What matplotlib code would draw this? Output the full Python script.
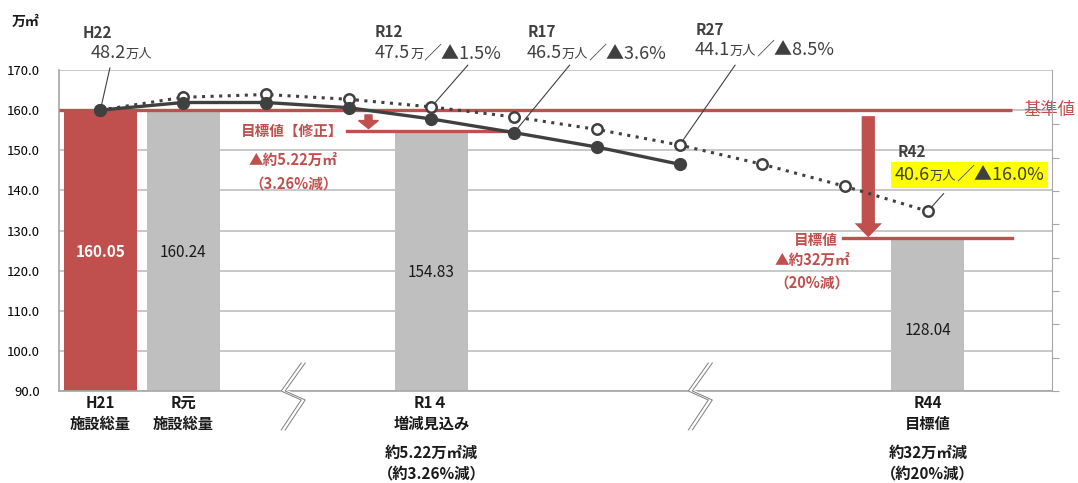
import matplotlib
matplotlib.use("Agg")
import matplotlib.pyplot as plt
import matplotlib.transforms as mtransforms
from matplotlib.patches import FancyArrow
from matplotlib.offsetbox import TextArea, HPacker, AnnotationBbox

plt.rcParams['font.family'] = ['Noto Sans CJK JP', 'DejaVu Sans']

# ---- data ----
bar_pos = [0, 1, 4, 10]
bar_vals = [160.05, 160.24, 154.83, 128.04]
bar_text = ["160.05", "160.24", "154.83", "128.04"]
bar_text_y = [124.6, 124.6, 119.6, 105.1]
bar_names = ["H21\n施設総量", "R元\n施設総量", "R1４\n増減見込み", "R44\n目標値"]
bar_notes = ["", "", "約5.22万㎡減\n（約3.26%減）", "約32万㎡減\n（約20%減）"]

# solid line (filled markers) and dotted line (open markers), one point per slot
area_trend = [160.0, 161.9, 161.9, 160.6, 157.8, 154.4, 150.8, 146.5]
pop_trend = [160.0, 163.2, 163.9, 162.7, 160.8, 158.3, 155.2, 151.3, 146.5, 141.0, 134.8]

base_value = 160.0
revised_target = 154.83
final_target = 128.04

yticks = [90, 100, 110, 120, 130, 140, 150, 160, 170]

RED = "#C0504D"
GRAY = "#BFBFBF"
DARK = "#404040"

fig = plt.figure(figsize=(10.78, 4.83), dpi=100)
ax = fig.add_axes([59 / 1078, (483 - 391) / 483, (1052 - 59) / 1078, (391 - 70) / 483])
ax.set_xlim(-0.5, 11.5)
ax.set_ylim(90, 170)

# grid / spines
ax.set_yticks(yticks)
ax.set_yticklabels([f"{v:.1f}" for v in yticks], fontsize=9.5)
ax.tick_params(axis='y', length=0, pad=14)
ax.set_xticks([])
ax.yaxis.grid(True, color="#BFBFBF", lw=1.2)
ax.set_axisbelow(True)
for s in ['top', 'right']:
    ax.spines[s].set_visible(False)
for s in ['left', 'bottom']:
    ax.spines[s].set_color("#A6A6A6")
    ax.spines[s].set_linewidth(1.2)

# secondary axis ticks on the right
ax2 = ax.twinx()
ax2.set_ylim(0, 9.63)
ax2.set_yticks(range(9))
ax2.set_yticklabels([])
ax2.tick_params(axis='y', length=5, color="#A6A6A6")
for s in ['top', 'left', 'bottom']:
    ax2.spines[s].set_visible(False)
ax2.spines['right'].set_color("#A6A6A6")

# bars
colors = [RED, GRAY, GRAY, GRAY]
ax.bar(bar_pos, [v - 90 for v in bar_vals], bottom=90, width=0.88, color=colors, zorder=2)
for i, (p, t, ty) in enumerate(zip(bar_pos, bar_text, bar_text_y)):
    if i == 0:
        ax.text(p, ty, t, ha='center', va='center', color='white', fontsize=11, fontweight='bold', zorder=6)
    else:
        ax.text(p, ty, t, ha='center', va='center', color='#1a1a1a', fontsize=11, zorder=6)

# category labels below axis
for p, name, note in zip(bar_pos, bar_names, bar_notes):
    ax.text(p, 89.0, name, ha='center', va='top', fontsize=11, fontweight='bold',
            color='#1a1a1a', linespacing=1.35, clip_on=False)
    if note:
        ax.text(p, 76.6, note, ha='center', va='top', fontsize=11, fontweight='bold',
                color='#1a1a1a', linespacing=1.35, clip_on=False)

# red reference lines
ax.plot([-0.5, 11.02], [base_value, base_value], color=RED, lw=2.4, zorder=3, solid_capstyle='butt')
ax.plot([2.98, 4.95], [revised_target, revised_target], color=RED, lw=2.4, zorder=3)
ax.plot([8.98, 11.02], [final_target, final_target], color=RED, lw=2.4, zorder=3, clip_on=False)

# arrows
ax.add_patch(FancyArrow(3.24, 158.8, 0, -(158.8 - 155.4), width=0.085, head_width=0.24,
                        head_length=2.0, length_includes_head=True, color=RED, zorder=3))
ax.add_patch(FancyArrow(9.28, 158.5, 0, -(158.5 - 128.3), width=0.16, head_width=0.33,
                        head_length=3.5, length_includes_head=True, color=RED, zorder=3, lw=0))

# red texts
ax.text(11.15, base_value, "基準値", color=RED, fontsize=12.5, va='center', ha='left', clip_on=False)
ax.text(2.93, 154.7, "目標値【修正】", color=RED, fontsize=10.5, fontweight='bold', ha='right', va='center')
ax.text(2.33, 147.5, "▲約5.22万㎡", color=RED, fontsize=10.5, fontweight='bold', ha='center', va='center')
ax.text(2.33, 141.8, "（3.26%減）", color=RED, fontsize=10.5, fontweight='bold', ha='center', va='center')
ax.text(8.64, 127.6, "目標値", color=RED, fontsize=10.5, fontweight='bold', ha='center', va='center')
ax.text(8.6, 122.6, "▲約32万㎡", color=RED, fontsize=10.5, fontweight='bold', ha='center', va='center')
ax.text(8.6, 117.1, "（20%減）", color=RED, fontsize=10.5, fontweight='bold', ha='center', va='center')

# trend lines
ax.plot(range(len(pop_trend)), pop_trend, color=DARK, lw=2.2, ls=(0, (1, 1.8)),
        marker='o', ms=7.5, mfc='white', mec=DARK, mew=1.8, zorder=4)
ax.plot(range(len(area_trend)), area_trend, color=DARK, lw=2.4,
        marker='o', ms=8.5, mfc=DARK, mec=DARK, zorder=5)

# population call-outs
def callout(x, y, pieces, yellow=False):
    kids = [TextArea(t, textprops=dict(size=s, color=DARK)) for t, s in pieces]
    box = HPacker(children=kids, align="baseline", pad=0, sep=0)
    if yellow:
        ab = AnnotationBbox(box, (x, y), xycoords='data', box_alignment=(0, 0.5),
                            frameon=True, pad=0.3, annotation_clip=False,
                            bboxprops=dict(fc='#FFFF00', ec='none', boxstyle='square'))
    else:
        ab = AnnotationBbox(box, (x, y), xycoords='data', box_alignment=(0, 0.5),
                            frameon=False, pad=0, annotation_clip=False)
    ab.set_zorder(7)
    ax.add_artist(ab)

def leader(x0, y0, x1, y1):
    ax.plot([x0, x1], [y0, y1], color=DARK, lw=0.8, zorder=3.5, clip_on=False)

ax.text(-0.21, 179.2, "H22", color=DARK, fontsize=11, fontweight='bold', va='center', clip_on=False)
callout(-0.12, 174.2, [("48.2", 13), ("万人", 9.5)])
leader(0.115, 170.5, 0, area_trend[0])

ax.text(3.32, 179.5, "R12", color=DARK, fontsize=11, fontweight='bold', va='center', clip_on=False)
callout(3.32, 174.2, [("47.5", 13), ("万", 9.5), ("／▲1.5%", 13)])
leader(4.44, 171.2, 4, pop_trend[4])

ax.text(5.16, 179.5, "R17", color=DARK, fontsize=11, fontweight='bold', va='center', clip_on=False)
callout(5.15, 174.2, [("46.5", 13), ("万人", 9.5), ("／▲3.6%", 13)])
leader(5.67, 171.2, 5, area_trend[5])

ax.text(7.19, 180.0, "R27", color=DARK, fontsize=11, fontweight='bold', va='center', clip_on=False)
callout(7.18, 175.0, [("44.1", 13), ("万人", 9.5), ("／▲8.5%", 13)])
leader(7.67, 171.2, 7, pop_trend[7])

ax.text(9.64, 149.5, "R42", color=DARK, fontsize=11, fontweight='bold', va='center', zorder=7)
callout(9.60, 143.9, [("40.6", 13), ("万人", 9.5), ("／▲16.0%", 13)], yellow=True)
leader(10.19, 139.2, 10, pop_trend[10])

# axis break marks (zigzag) on the x axis
def axis_break(xc):
    trans = fig.dpi_scale_trans + mtransforms.ScaledTranslation(xc, 90, ax.transData)
    zx = [0.10, -0.10, 0.10, -0.10]
    zy = [0.28, 0.0, -0.09, -0.39]
    ax.plot(zx, zy, color='white', lw=3.5, transform=trans, clip_on=False, zorder=8)
    for off in (-0.02, 0.02):
        ax.plot([v + off for v in zx], zy, color='#7F7F7F', lw=0.7, transform=trans,
                clip_on=False, zorder=9)

axis_break(2.33)
axis_break(7.25)

fig.text(12 / 1078, 1 - 22 / 483, "万㎡", fontsize=10, fontweight='bold', va='center', color='#1a1a1a')

fig.savefig("out.png", dpi=100)
